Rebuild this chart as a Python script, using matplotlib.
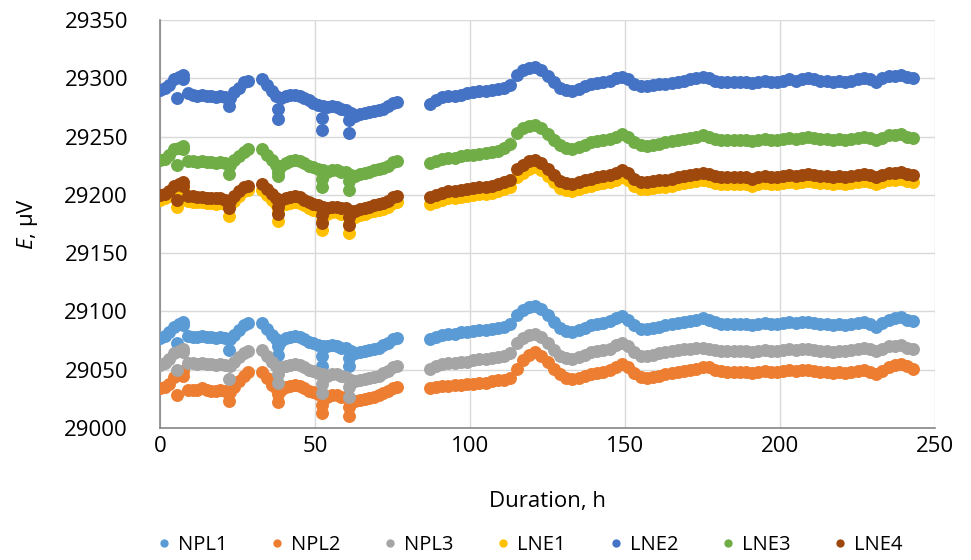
import numpy as np
import matplotlib
matplotlib.use("Agg")
import matplotlib.pyplot as plt

plt.rcParams['font.family'] = ['Open Sans', 'DejaVu Sans']
plt.rcParams['mathtext.fontset'] = 'custom'
plt.rcParams['mathtext.it'] = 'Open Sans:italic'
plt.rcParams['mathtext.rm'] = 'Open Sans'

# ---------------- data ----------------
t_seg1 = np.arange(0, 29.9, 1.5)      # 20 points
t_seg2 = np.arange(33, 77.9, 1.5)     # 30 points
t_seg3 = np.arange(87, 185.1, 2)      # 50 points
t_seg4 = np.arange(187, 243.1, 2)     # 29 points
t_spike = [5.5, 7.5, 22.3, 38.0, 38.0, 52.3, 52.3, 61.0, 61.0]

series_names = ["NPL1", "NPL2", "NPL3", "LNE1", "LNE2", "LNE3", "LNE4"]
colors = ["#5B9BD5", "#ED7D31", "#A5A5A5", "#FFC000", "#4472C4", "#70AD47", "#9E480E"]

NPL1 = [
    [29077, 29079, 29082, 29087, 29089, 29088, 29079, 29078, 29078, 29079, 29078, 29078, 29077, 29078, 29077, 29076, 29080, 29084, 29088, 29090],
    [29090, 29085, 29080, 29076, 29075, 29077, 29078, 29079, 29078, 29076, 29074, 29073, 29071, 29070, 29070, 29071, 29070, 29069, 29069, 29066, 29064, 29065, 29066, 29067, 29068, 29069, 29071, 29073, 29076, 29077],
    [29076, 29078, 29080, 29081, 29081, 29082, 29082, 29083, 29084, 29084,
     29085, 29086, 29087, 29089, 29097, 29101, 29104, 29105, 29102, 29097,
     29091, 29086, 29083, 29082, 29084, 29086, 29088, 29089, 29090, 29092,
     29094, 29096, 29093, 29088, 29085, 29085, 29086, 29087, 29088, 29089,
     29090, 29091, 29092, 29093, 29094, 29093, 29091, 29089, 29089, 29089],
    [29089, 29089, 29088, 29089, 29090, 29089, 29089, 29090, 29091, 29090,
     29091, 29091, 29090, 29089, 29089, 29088, 29089, 29088, 29089, 29090,
     29091, 29089, 29087, 29090, 29093, 29094, 29095, 29093, 29092],
    [29073, 29091, 29067, 29070, 29063, 29062, 29053, 29060, 29053],
]
NPL2 = [
    [29034, 29035, 29038, 29044, 29046, 29045, 29033, 29033, 29033, 29034, 29033, 29032, 29032, 29033, 29032, 29031, 29035, 29040, 29045, 29048],
    [29048, 29043, 29037, 29034, 29033, 29035, 29036, 29037, 29036, 29034, 29032, 29031, 29029, 29028, 29027, 29028, 29028, 29027, 29027, 29024, 29023, 29024, 29025, 29026, 29027, 29028, 29030, 29032, 29034, 29035],
    [29034, 29035, 29036, 29036, 29037, 29037, 29038, 29038, 29039, 29039,
     29040, 29041, 29041, 29043, 29051, 29058, 29063, 29065, 29062, 29057,
     29051, 29046, 29043, 29042, 29043, 29045, 29046, 29047, 29048, 29050,
     29052, 29055, 29052, 29047, 29044, 29043, 29044, 29045, 29046, 29047,
     29048, 29049, 29050, 29051, 29052, 29052, 29050, 29049, 29048, 29048],
    [29048, 29048, 29047, 29048, 29049, 29048, 29048, 29049, 29050, 29049,
     29050, 29050, 29049, 29048, 29048, 29047, 29048, 29047, 29048, 29049,
     29050, 29048, 29046, 29049, 29052, 29054, 29055, 29053, 29051],
    [29028, 29049, 29023, 29029, 29022, 29020, 29013, 29018, 29010],
]
NPL3 = [
    [29054, 29056, 29059, 29064, 29066, 29065, 29056, 29056, 29055, 29056, 29055, 29055, 29054, 29055, 29054, 29053, 29057, 29061, 29064, 29066],
    [29067, 29062, 29057, 29053, 29052, 29053, 29054, 29055, 29054, 29052, 29050, 29049, 29047, 29046, 29045, 29046, 29046, 29045, 29044, 29041, 29040, 29041, 29042, 29043, 29044, 29045, 29047, 29049, 29052, 29053],
    [29051, 29053, 29055, 29056, 29056, 29057, 29057, 29058, 29059, 29059,
     29060, 29061, 29062, 29064, 29073, 29077, 29080, 29081, 29078, 29073,
     29067, 29062, 29060, 29059, 29061, 29063, 29065, 29066, 29067, 29068,
     29071, 29073, 29070, 29065, 29062, 29062, 29063, 29064, 29065, 29066,
     29067, 29068, 29068, 29069, 29069, 29068, 29067, 29066, 29066, 29066],
    [29066, 29066, 29065, 29066, 29067, 29066, 29066, 29067, 29068, 29067,
     29068, 29068, 29067, 29066, 29066, 29065, 29066, 29066, 29067, 29068,
     29069, 29068, 29066, 29068, 29070, 29070, 29071, 29069, 29068],
    [29050, 29068, 29042, 29046, 29039, 29038, 29030, 29035, 29027],
]
LNE1 = [
    [29196, 29197, 29199, 29204, 29205, 29204, 29195, 29194, 29194, 29194, 29193, 29193, 29192, 29193, 29192, 29191, 29195, 29199, 29203, 29204],
    [29204, 29200, 29196, 29192, 29191, 29192, 29193, 29194, 29193, 29191, 29189, 29187, 29186, 29185, 29184, 29185, 29185, 29184, 29184, 29181, 29181, 29183, 29184, 29185, 29186, 29187, 29188, 29190, 29193, 29194],
    [29192, 29194, 29196, 29197, 29197, 29198, 29199, 29200, 29201, 29201,
     29202, 29203, 29205, 29207, 29215, 29219, 29222, 29224, 29221, 29216,
     29211, 29206, 29204, 29203, 29205, 29207, 29208, 29209, 29210, 29211,
     29213, 29215, 29213, 29208, 29205, 29205, 29206, 29207, 29207, 29208,
     29209, 29210, 29211, 29212, 29213, 29212, 29210, 29209, 29209, 29209],
    [29209, 29209, 29208, 29209, 29210, 29209, 29209, 29210, 29211, 29210,
     29211, 29212, 29211, 29210, 29210, 29209, 29210, 29209, 29210, 29211,
     29212, 29211, 29209, 29211, 29213, 29213, 29214, 29212, 29211],
    [29190, 29206, 29182, 29185, 29178, 29178, 29170, 29175, 29167],
]
LNE2 = [
    [29290, 29292, 29294, 29299, 29301, 29299, 29287, 29286, 29285, 29286, 29285, 29285, 29284, 29285, 29284, 29283, 29288, 29292, 29297, 29298],
    [29299, 29294, 29289, 29285, 29283, 29285, 29286, 29286, 29285, 29283, 29281, 29279, 29277, 29276, 29275, 29276, 29275, 29274, 29273, 29270, 29268, 29269, 29270, 29271, 29272, 29273, 29274, 29276, 29279, 29280],
    [29278, 29281, 29284, 29285, 29285, 29286, 29287, 29288, 29289, 29289,
     29290, 29291, 29292, 29294, 29303, 29307, 29309, 29310, 29307, 29302,
     29297, 29292, 29290, 29289, 29291, 29293, 29295, 29296, 29297, 29298,
     29300, 29301, 29299, 29295, 29293, 29293, 29294, 29295, 29295, 29296,
     29297, 29298, 29299, 29300, 29301, 29300, 29298, 29297, 29297, 29297],
    [29297, 29297, 29296, 29297, 29298, 29297, 29297, 29298, 29299, 29298,
     29299, 29300, 29299, 29298, 29298, 29297, 29298, 29297, 29298, 29299,
     29300, 29299, 29297, 29300, 29302, 29302, 29303, 29301, 29300],
    [29283, 29303, 29276, 29274, 29265, 29266, 29256, 29264, 29253],
]
LNE3 = [
    [29230, 29231, 29234, 29239, 29240, 29239, 29229, 29229, 29228, 29229, 29228, 29228, 29227, 29228, 29227, 29226, 29230, 29233, 29237, 29239],
    [29239, 29234, 29230, 29226, 29225, 29227, 29229, 29230, 29229, 29227, 29225, 29224, 29222, 29221, 29220, 29221, 29221, 29220, 29220, 29217, 29216, 29218, 29219, 29220, 29221, 29222, 29223, 29225, 29228, 29229],
    [29227, 29229, 29231, 29232, 29232, 29233, 29234, 29234, 29235, 29236,
     29237, 29238, 29240, 29244, 29253, 29257, 29259, 29260, 29257, 29252,
     29247, 29243, 29240, 29239, 29241, 29243, 29245, 29246, 29247, 29248,
     29250, 29252, 29250, 29245, 29243, 29242, 29243, 29244, 29245, 29246,
     29247, 29248, 29249, 29250, 29251, 29250, 29248, 29247, 29247, 29247],
    [29247, 29247, 29246, 29247, 29248, 29247, 29247, 29248, 29249, 29248,
     29249, 29250, 29249, 29248, 29248, 29247, 29248, 29247, 29248, 29249,
     29250, 29249, 29247, 29249, 29251, 29251, 29252, 29250, 29249],
    [29226, 29242, 29218, 29220, 29216, 29214, 29207, 29212, 29204],
]
LNE4 = [
    [29200, 29201, 29203, 29208, 29209, 29208, 29199, 29199, 29198, 29198, 29197, 29197, 29197, 29197, 29196, 29195, 29199, 29203, 29207, 29208],
    [29209, 29205, 29201, 29197, 29196, 29197, 29198, 29199, 29198, 29196, 29194, 29192, 29191, 29190, 29189, 29190, 29190, 29189, 29189, 29186, 29186, 29188, 29189, 29190, 29191, 29192, 29193, 29195, 29198, 29199],
    [29198, 29200, 29202, 29203, 29203, 29204, 29205, 29206, 29207, 29207,
     29208, 29209, 29211, 29213, 29222, 29226, 29229, 29230, 29227, 29222,
     29217, 29212, 29210, 29209, 29211, 29213, 29214, 29215, 29216, 29217,
     29219, 29221, 29219, 29214, 29211, 29211, 29212, 29213, 29213, 29214,
     29215, 29216, 29217, 29218, 29219, 29218, 29216, 29215, 29215, 29215],
    [29215, 29215, 29214, 29215, 29216, 29215, 29215, 29216, 29217, 29216,
     29217, 29218, 29217, 29216, 29216, 29215, 29216, 29215, 29216, 29217,
     29218, 29217, 29215, 29217, 29219, 29219, 29220, 29218, 29217],
    [29196, 29211, 29189, 29190, 29184, 29183, 29176, 29181, 29174],
]

x_ticks = [0, 50, 100, 150, 200, 250]
y_ticks = [29000, 29050, 29100, 29150, 29200, 29250, 29300, 29350]

# ---------------- plot ----------------
fig = plt.figure(figsize=(9.71, 5.60), dpi=100)
ax = fig.add_axes([0.1648, 0.2357, 0.7982, 0.7286])

times = np.concatenate([t_seg1, t_seg2, t_seg3, t_seg4, t_spike])
all_series = [NPL1, NPL2, NPL3, LNE1, LNE2, LNE3, LNE4]
for name, col, parts in zip(series_names, colors, all_series):
    vals = np.concatenate([np.asarray(p, dtype=float) for p in parts])
    ax.plot(times, vals, linestyle='none', marker='o', ms=8.3,
            color=col, mec=col, label=name, zorder=3)

ax.set_xlim(0, 250)
ax.set_ylim(29000, 29350)
ax.set_xticks(x_ticks)
ax.set_yticks(y_ticks)
ax.grid(True, color='#D9D9D9', linewidth=1.0, zorder=0)
ax.set_axisbelow(True)
for s in ['top', 'right']:
    ax.spines[s].set_visible(False)
for s in ['left', 'bottom']:
    ax.spines[s].set_color('#868686')
    ax.spines[s].set_linewidth(1.2)
ax.tick_params(length=0, labelsize=16, colors='#000000')
ax.tick_params(axis='y', pad=23)
ax.tick_params(axis='x', pad=6)

ax.set_xlabel('Duration, h', fontsize=16)
ax.set_ylabel('$E$, µV', fontsize=16)
ax.xaxis.set_label_coords(0.5, -0.155)
ax.yaxis.set_label_coords(-0.155, 0.5)

leg = fig.legend(loc='center', bbox_to_anchor=(0.544, 0.027), ncol=7, frameon=False,
                 fontsize=14.5, markerscale=0.6, handletextpad=0.2,
                 columnspacing=1.96, handlelength=1.0)

fig.savefig('out.png', dpi=100)
